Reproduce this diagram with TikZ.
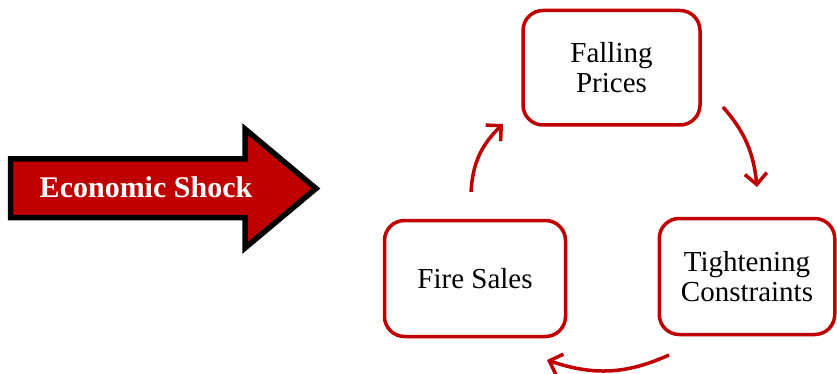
\documentclass[tikz,border=0pt]{standalone}
\usepackage{fontspec}
\setmainfont{Liberation Serif}
\usetikzlibrary{arrows.meta,bending}
\definecolor{dred}{HTML}{C00000}
\tikzset{
  cyclebox/.style={draw=dred, line width=3.5pt, fill=white, rounded corners=20pt,
    inner sep=0pt, outer sep=0pt, align=center, text=black,
    font=\fontsize{29}{30}\selectfont},
  cyclearrow/.style={draw=dred, line width=3.5pt,
    -{Straight Barb[length=11pt,width=22pt,line width=3.5pt,flex]}}
}
\begin{document}
\begin{tikzpicture}[x=1pt,y=-1pt]
\useasboundingbox (0,0) rectangle (837,374);
% Economic shock arrow
\draw[line width=5.5pt, fill=dred, draw=black, miter limit=10]
  (10.5,159) -- (245,159) -- (245,129) -- (316,188.5) -- (245,248) -- (245,217.5) -- (10.5,217.5) -- cycle;
\node[text=white, font=\fontsize{30}{30}\selectfont\bfseries] (shock) at (146,187) {Economic Shock};
% boxes
\node[cyclebox, minimum width=177pt, minimum height=114.5pt] (prices) at (611.5,67.75) {Falling\\Prices};
\node[cyclebox, minimum width=181pt, minimum height=116pt] (fire) at (475,278.5) {Fire Sales};
\node[cyclebox, minimum width=175.5pt, minimum height=116pt] (tight) at (747,276.5) {Tightening\\Constraints};
% arrow end points
\coordinate (a1s) at (471,192);
\coordinate (a1e) at (503,124);
\coordinate (a2s) at (723,107);
\coordinate (a2e) at (757,187);
\coordinate (a3s) at (669,355);
\coordinate (a3e) at (547,360);
\draw[cyclearrow] (a1s) to[bend left=22] (a1e);
\draw[cyclearrow] (a2s) to[bend left=18] (a2e);
\draw[cyclearrow] (a3s) to[bend left=22] (a3e);
\end{tikzpicture}
\end{document}
